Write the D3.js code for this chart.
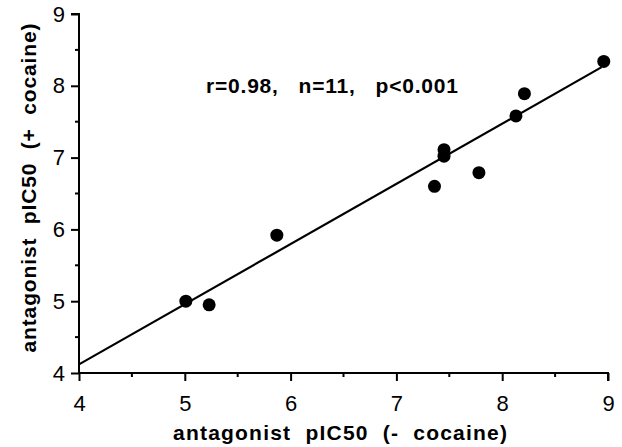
<!DOCTYPE html>
<html>
<head>
<meta charset="utf-8">
<script src="https://d3js.org/d3.v7.min.js"></script>
<style>
  body { margin: 0; background: #fff; }
  text { font-family: "Liberation Sans", Arial, sans-serif; fill: #000; }
</style>
</head>
<body>
<svg id="chart" width="622" height="447"></svg>
<script>
// pIC50 without cocaine (x) and with cocaine (y)
const pic50Minus = [5.01, 5.23, 5.87, 7.36, 7.45, 7.45, 7.78, 8.13, 8.21, 8.96];
const pic50Plus  = [5.00, 4.95, 5.92, 6.60, 7.11, 7.02, 6.79, 7.58, 7.89, 8.34];
// regression line end points
const fitX = [4, 8.94];
const fitY = [4.12, 8.26];
const majorTicks = [4, 5, 6, 7, 8, 9];
const minorTicks = [4.5, 5.5, 6.5, 7.5, 8.5];
const statsLabel = "r=0.98,   n=11,   p<0.001";

const width = 622, height = 447;
const margin = { top: 14, right: 14, bottom: 74, left: 79 };

const svg = d3.select("#chart");

const x = d3.scaleLinear().domain([4, 9]).range([margin.left, width - margin.right]);
const y = d3.scaleLinear().domain([4, 9]).range([height - margin.bottom, margin.top]);

// x axis
const xAxis = svg.append("g")
  .attr("transform", `translate(0,${y(4)})`)
  .call(d3.axisBottom(x).tickValues(majorTicks).tickSize(8).tickPadding(14).tickFormat(d3.format("d")));
xAxis.append("g").attr("class", "minor").selectAll("line").data(minorTicks).join("line")
  .attr("x1", d => x(d)).attr("x2", d => x(d))
  .attr("y1", 0).attr("y2", 4);

// y axis
const yAxis = svg.append("g")
  .attr("transform", `translate(${x(4)},0)`)
  .call(d3.axisLeft(y).tickValues(majorTicks).tickSize(8).tickPadding(6).tickFormat(d3.format("d")));
yAxis.append("g").attr("class", "minor").selectAll("line").data(minorTicks).join("line")
  .attr("y1", d => y(d)).attr("y2", d => y(d))
  .attr("x1", 0).attr("x2", -4);

xAxis.select(".domain").attr("d", `M${x(4)},0H${x(9)}V8`);
yAxis.select(".domain").attr("d", `M-8,${y(9)}H0V${y(4)}`);
svg.selectAll(".domain").attr("stroke", "#000").attr("stroke-width", 2);
svg.selectAll(".tick line, .minor line").attr("stroke", "#000").attr("stroke-width", 2);
svg.selectAll(".tick text")
  .style("font-family", "'Liberation Sans', Arial, sans-serif")
  .style("font-size", "22px").attr("fill", "#000");

// regression line
svg.append("line")
  .attr("x1", x(fitX[0])).attr("y1", y(fitY[0]))
  .attr("x2", x(fitX[1])).attr("y2", y(fitY[1]))
  .attr("stroke", "#000").attr("stroke-width", 2.2);

// data points
svg.append("g").selectAll("circle")
  .data(pic50Minus.map((v, i) => [v, pic50Plus[i]]))
  .join("circle")
  .attr("cx", d => x(d[0]))
  .attr("cy", d => y(d[1]))
  .attr("r", 6.5)
  .attr("fill", "#000");

// stats annotation
svg.append("text")
  .attr("x", 206).attr("y", 93)
  .attr("font-size", "21px").attr("font-weight", "bold")
  .attr("textLength", 252).attr("lengthAdjust", "spacing")
  .style("white-space", "pre")
  .text(statsLabel);

// axis titles
svg.append("text")
  .attr("x", 340).attr("y", 440)
  .attr("text-anchor", "middle")
  .attr("font-size", "21px").attr("font-weight", "bold")
  .attr("textLength", 334).attr("lengthAdjust", "spacing")
  .style("white-space", "pre")
  .text("antagonist  pIC50  (-  cocaine)");

svg.append("text")
  .attr("transform", "translate(36,188) rotate(-90)")
  .attr("text-anchor", "middle")
  .attr("font-size", "21px").attr("font-weight", "bold")
  .attr("textLength", 329).attr("lengthAdjust", "spacing")
  .style("white-space", "pre")
  .text("antagonist  pIC50  (+  cocaine)");
</script>
</body>
</html>
